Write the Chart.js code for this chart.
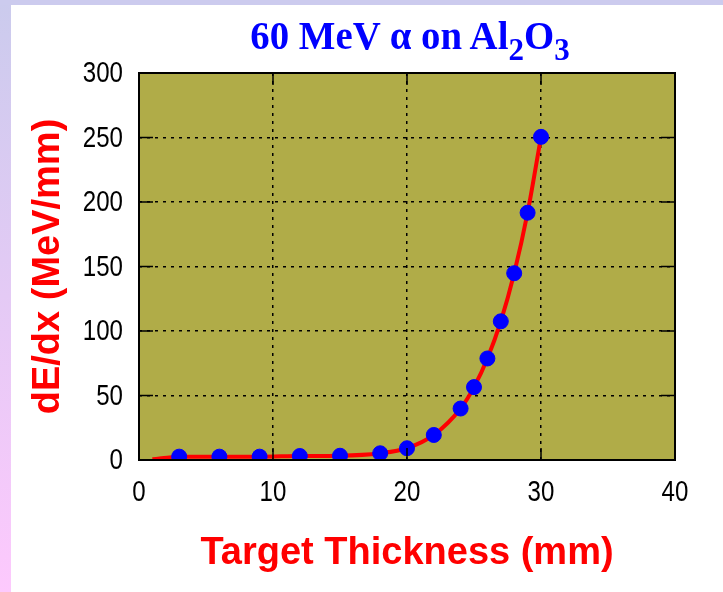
<!DOCTYPE html>
<html lang="en">
<head>
  <meta charset="UTF-8" />
  <title>60 MeV alpha on Al2O3</title>
  <style>
    html, body { margin: 0; padding: 0; }
    body {
      width: 723px; height: 592px; position: relative; overflow: hidden;
      background: linear-gradient(#cbcbed, #fdc9fd);
    }
    .page {
      position: absolute; left: 11px; top: 5px; right: 0; bottom: 0;
      background: #ffffff;
    }
    .topbar {
      position: absolute; left: 0; top: 0; width: 723px; height: 5px;
      background: #cccbee;
    }
    #chart { position: absolute; left: 0; top: 0; }
    .title {
      position: absolute; left: 410px; top: 12px;
      transform: translateX(-50%) scaleX(0.97);
      white-space: nowrap;
      font-family: "Liberation Serif", "Times New Roman", serif;
      font-weight: bold; font-size: 40px; color: #0000ff;
    }
    .title sub { font-size: 0.8em; vertical-align: -0.35em; line-height: 0; }
  </style>
</head>
<body>
<div class="topbar"></div>
<div class="page"></div>
<canvas id="chart" width="723" height="592"></canvas>
<div class="title">60 MeV &alpha; on Al<sub>2</sub>O<sub>3</sub></div>

<script src="https://cdn.jsdelivr.net/npm/chart.js"></script>
<script>
  // data
  const thickness = [1, 3, 6, 9, 12, 15, 18, 20, 22, 24, 25, 26, 27, 28, 29, 30];   // mm
  const dEdx = [0.5, 2.6, 2.6, 2.6, 3.1, 3.3, 5.2, 9.1, 19.4, 39.9, 56.5, 78.7, 107.5, 144.8, 191.7, 250.5]; // MeV/mm
  // measured points (the curve starts a bit before the first one)
  const pointThickness = thickness.slice(1);
  const pointDedx = dEdx.slice(1);

  const xTicks = [0, 10, 20, 30, 40];
  const yTicks = [0, 50, 100, 150, 200, 250, 300];

  const labelFont = '29px "Liberation Sans", Arial, sans-serif';
  const titleFont = { family: '"Liberation Sans", Arial, sans-serif', size: 38, weight: 'bold' };

  // olive plot box, black frame, inward tick marks and narrow tick labels
  const plotFrame = {
    id: 'plotFrame',
    beforeDraw(chart) {
      const a = chart.chartArea, ctx = chart.ctx;
      ctx.save();
      ctx.fillStyle = '#b0ac48';
      ctx.fillRect(a.left, a.top, a.right - a.left, a.bottom - a.top);
      ctx.restore();
    },
    afterDatasetsDraw(chart) {
      const a = chart.chartArea, ctx = chart.ctx;
      const xs = chart.scales.x, ys = chart.scales.y;
      ctx.save();
      ctx.strokeStyle = '#000';
      ctx.lineWidth = 1.5;
      ctx.beginPath();
      xTicks.forEach(v => {
        const px = xs.getPixelForValue(v);
        ctx.moveTo(px, a.bottom); ctx.lineTo(px, a.bottom - 12);
        ctx.moveTo(px, a.top); ctx.lineTo(px, a.top + 12);
      });
      yTicks.forEach(v => {
        const py = ys.getPixelForValue(v);
        ctx.moveTo(a.left, py); ctx.lineTo(a.left + 14, py);
        ctx.moveTo(a.right, py); ctx.lineTo(a.right - 14, py);
      });
      ctx.stroke();
      ctx.lineWidth = 2;
      ctx.strokeRect(a.left, a.top, a.right - a.left, a.bottom - a.top);

      // tick labels, squeezed like the narrow font of the original
      ctx.fillStyle = '#000';
      ctx.font = labelFont;
      ctx.textBaseline = 'middle';
      ctx.textAlign = 'right';
      yTicks.forEach(v => {
        ctx.save();
        ctx.translate(a.left - 16, ys.getPixelForValue(v) + 1);
        ctx.scale(0.83, 1);
        ctx.fillText(String(v), 0, 0);
        ctx.restore();
      });
      ctx.textAlign = 'center';
      xTicks.forEach(v => {
        ctx.save();
        ctx.translate(xs.getPixelForValue(v), a.bottom + 33);
        ctx.scale(0.83, 1);
        ctx.fillText(String(v), 0, 0);
        ctx.restore();
      });
      ctx.restore();
    }
  };

  new Chart(document.getElementById('chart'), {
    type: 'scatter',
    data: {
      datasets: [
        {
          type: 'scatter',
          label: 'measured',
          data: pointThickness.map((x, i) => ({ x: x, y: pointDedx[i] })),
          backgroundColor: '#0000ff',
          borderColor: '#0000ff',
          pointRadius: 7.5,
          pointHoverRadius: 7.5,
          order: 1
        },
        {
          type: 'line',
          label: 'dE/dx',
          data: thickness.map((x, i) => ({ x: x, y: dEdx[i] })),
          borderColor: '#ff0000',
          borderWidth: 4,
          pointRadius: 0,
          fill: false,
          cubicInterpolationMode: 'monotone',
          order: 2
        }
      ]
    },
    options: {
      responsive: false,
      animation: false,
      layout: { padding: { left: 0, right: 48, top: 73, bottom: 0 } },
      plugins: {
        legend: { display: false },
        tooltip: { enabled: false }
      },
      scales: {
        x: {
          type: 'linear',
          min: 0, max: 40,
          afterBuildTicks: s => { s.ticks = xTicks.map(v => ({ value: v })); },
          afterFit: s => { s.height = 132; },
          ticks: { display: false },
          grid: { color: '#000', lineWidth: 1.5, drawTicks: false },
          border: { display: false, dash: [3, 5] },
          title: {
            display: true, text: 'Target Thickness (mm)', color: '#ff0000',
            font: titleFont, padding: { top: 0, bottom: 16 }
          }
        },
        y: {
          type: 'linear',
          min: 0, max: 300,
          afterBuildTicks: s => { s.ticks = yTicks.map(v => ({ value: v })); },
          afterFit: s => { s.width = 139; },
          ticks: { display: false },
          grid: { color: '#000', lineWidth: 1.5, drawTicks: false },
          border: { display: false, dash: [3, 5] },
          title: {
            display: true, text: 'dE/dx (MeV/mm)', color: '#ff0000',
            font: titleFont, padding: { top: 26, bottom: 0 }
          }
        }
      }
    },
    plugins: [plotFrame]
  });
</script>
</body>
</html>
